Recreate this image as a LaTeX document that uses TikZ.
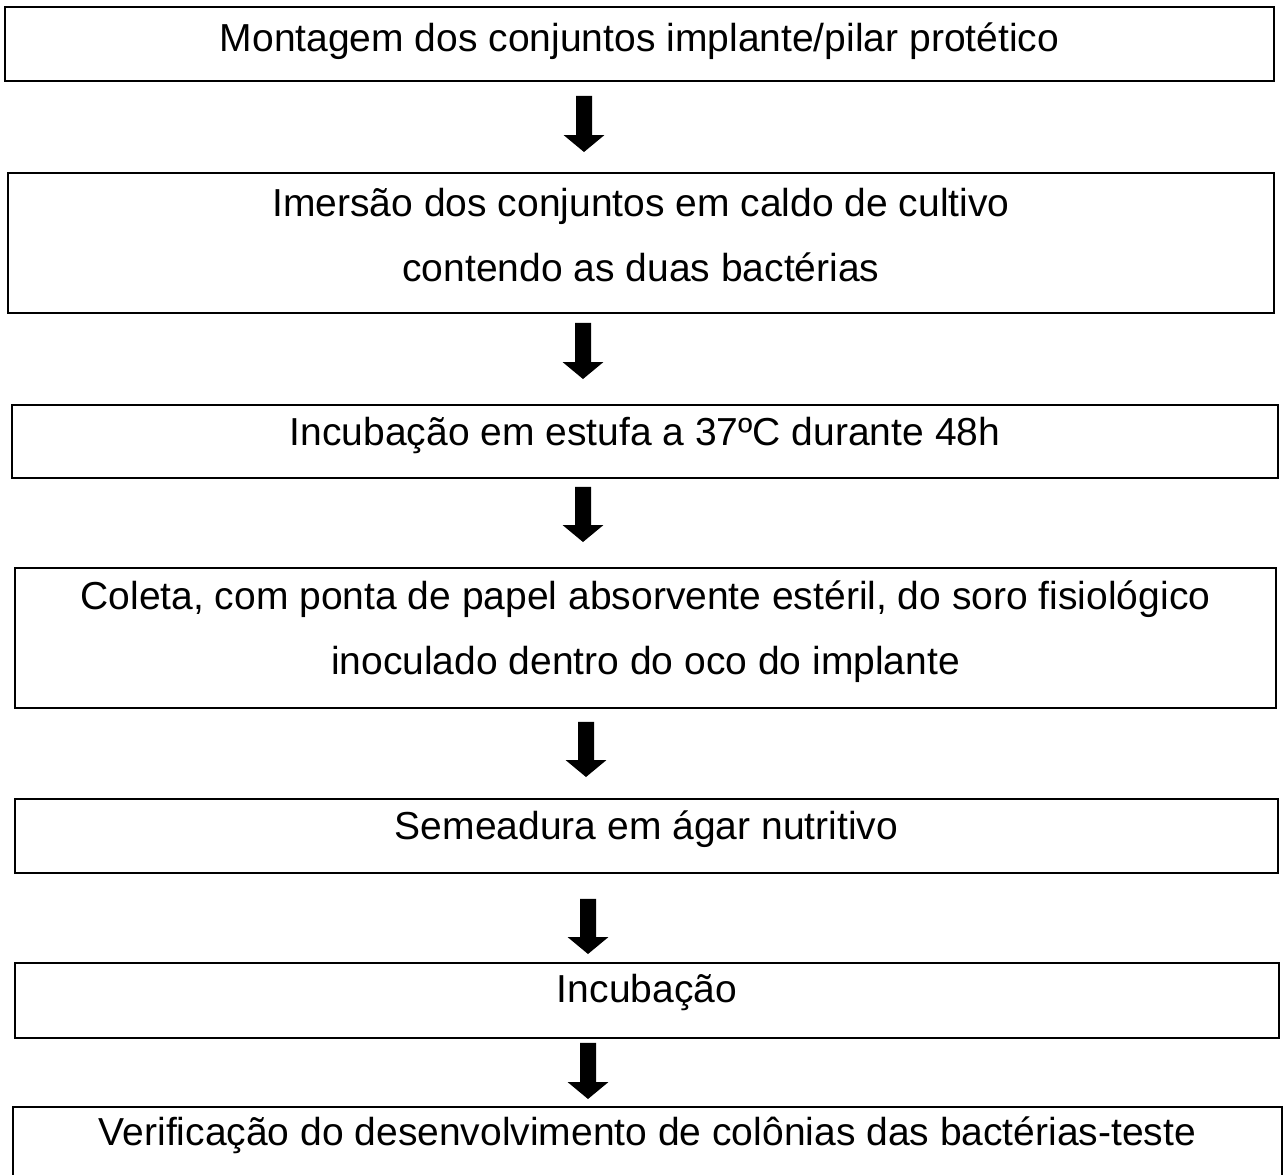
\documentclass[tikz,border=0pt]{standalone}
\usepackage{fontspec}
\setmainfont{Liberation Sans}
\usetikzlibrary{arrows.meta}
\tikzstyle{caixa}=[rectangle,draw=black,line width=1.1pt,inner xsep=0pt,inner ysep=0pt,align=center,font=\fontsize{22.2}{37}\selectfont]
\tikzstyle{seta}=[line width=0.32cm,-{Triangle[width=0.8cm,length=0.34cm]}]

\begin{document}
\begin{tikzpicture}
		\useasboundingbox (0,0) rectangle (25.68,-23.5);
		\node [caixa,minimum width=25.38cm,text height=0.89cm,text depth=0.59cm] (b1) at (12.79,-0.88) {Montagem dos conjuntos implante/pilar protético};
		\node [caixa,minimum width=25.32cm,text height=2.17cm,text depth=0.63cm] (b2) at (12.82,-4.86) {Imersão dos conjuntos em caldo de cultivo\\contendo as duas bactérias};
		\node [caixa,minimum width=25.32cm,text height=0.81cm,text depth=0.65cm] (b3) at (12.9,-8.83) {Incubação em estufa a 37ºC durante 48h};
		\node [caixa,minimum width=25.22cm,text height=2.13cm,text depth=0.67cm] (b4) at (12.91,-12.76) {Coleta, com ponta de papel absorvente estéril, do soro fisiológico\\inoculado dentro do oco do implante};
		\node [caixa,minimum width=25.26cm,text height=0.81cm,text depth=0.67cm] (b5) at (12.93,-16.72) {Semeadura em ágar nutritivo};
		\node [caixa,minimum width=25.28cm,text height=0.79cm,text depth=0.71cm] (b6) at (12.94,-20.01) {Incubação};
		\node [caixa,minimum width=25.38cm,text height=0.77cm,text depth=0.71cm] (b7) at (12.95,-22.88) {Verificação do desenvolvimento de colônias das bactérias-teste};

		\draw [seta,shorten <=0.28cm,shorten >=0.4cm] ([xshift=-1.11cm]b1.south) -- ([xshift=-1.14cm]b2.north);
		\draw [seta,shorten <=0.18cm,shorten >=0.5cm] ([xshift=-1.16cm]b2.south) -- ([xshift=-1.24cm]b3.north);
		\draw [seta,shorten <=0.16cm,shorten >=0.5cm] ([xshift=-1.24cm]b3.south) -- ([xshift=-1.25cm]b4.north);
		\draw [seta,shorten <=0.26cm,shorten >=0.42cm] ([xshift=-1.19cm]b4.south) -- ([xshift=-1.21cm]b5.north);
		\draw [seta,shorten <=0.5cm,shorten >=0.16cm] ([xshift=-1.17cm]b5.south) -- ([xshift=-1.18cm]b6.north);
		\draw [seta,shorten <=0.08cm,shorten >=0.14cm] ([xshift=-1.18cm]b6.south) -- ([xshift=-1.19cm]b7.north);
\end{tikzpicture}
\end{document}
